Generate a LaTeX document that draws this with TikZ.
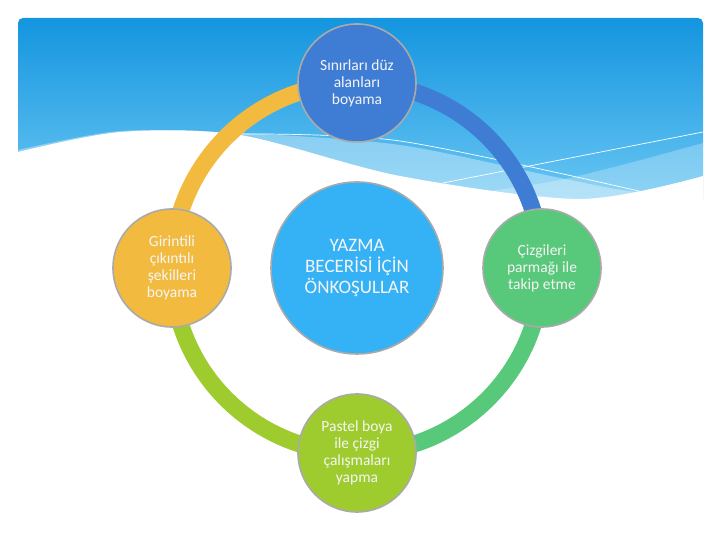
\documentclass[tikz,border=0pt]{standalone}
\usepackage{fontspec}
\setmainfont{Carlito}
\usepackage{tikz}
\usetikzlibrary{positioning, backgrounds}
\definecolor{skytop}{RGB}{20,149,223}
\definecolor{skybot}{RGB}{105,198,243}
\definecolor{hubblue}{RGB}{53,177,245}
\definecolor{topblue}{RGB}{63,125,212}
\definecolor{leftyellow}{RGB}{242,187,64}
\definecolor{rightgreen}{RGB}{88,201,122}
\definecolor{botlime}{RGB}{158,204,46}
\definecolor{rimgray}{RGB}{170,170,170}
\tikzset{
  hubnode/.style={circle, minimum size=172pt, inner sep=0pt, text centered, draw=rimgray, line width=1.6pt, fill=hubblue, text=white!96!black, font=\fontsize{19}{21}\selectfont},
  stepnode/.style={circle, minimum size=118pt, inner sep=0pt, text centered, draw=rimgray, line width=1.6pt, text=white!96!black, font=\fontsize{15.5}{17}\selectfont},
  ring/.style={line width=17pt}
}

\begin{document}
\begin{tikzpicture}[x=1pt, y=1pt, node distance=185pt, on grid]
    \useasboundingbox (0,0) rectangle (720,540);

    \node (hub) [hubnode, align=center] at (357,272) {YAZMA\\BECERİSİ İÇİN\\ÖNKOŞULLAR};
    \node (top) [stepnode, fill=topblue, align=center, above=of hub] {Sınırları düz\\alanları\\boyama};
    \node (left) [stepnode, fill=leftyellow, align=center, left=of hub] {Girintili\\çıkıntılı\\şekilleri\\boyama};
    \node (right) [stepnode, fill=rightgreen, align=center, right=of hub] {Çizgileri\\parmağı ile\\takip etme};
    \node (bot) [stepnode, fill=botlime, align=center, below=of hub] {Pastel boya\\ile çizgi\\çalışmaları\\yapma};

    \begin{scope}[on background layer]
      % sky with waves
      \begin{scope}
        \clip[rounded corners=5pt] (18,522) rectangle (703,12);
        \shade[top color=skytop, bottom color=skybot] (18,522) rectangle (703,340);
        \fill[white, opacity=0.35] plot[smooth] coordinates {(18,390) (120,409) (240,407) (400,395) (560,362) (640,348) (703,355)} -- (703,300) -- (18,300) -- cycle;
        \fill[white, opacity=0.25] plot[smooth] coordinates {(420,340) (560,360) (703,397)} -- (703,300) -- (420,300) -- cycle;
        \fill[white] plot[smooth] coordinates {(18,388) (120,408) (240,405) (400,364) (580,341) (703,364)} -- (703,12) -- (18,12) -- cycle;
        \draw[white, line width=0.7pt] plot[smooth] coordinates {(235,406) (400,399) (643,348)};
        \draw[white, line width=0.7pt] plot[smooth] coordinates {(443,357) (560,380) (703,408)};
      \end{scope}

      % ring
      \draw[ring, leftyellow] (top.center) to[out=180,in=90] (left.center);
      \draw[ring, topblue] (top.center) to[out=0,in=90] (right.center);
      \draw[ring, botlime] (bot.center) to[out=180,in=270] (left.center);
      \draw[ring, rightgreen] (bot.center) to[out=0,in=270] (right.center);
    \end{scope}
  \end{tikzpicture}
\end{document}
